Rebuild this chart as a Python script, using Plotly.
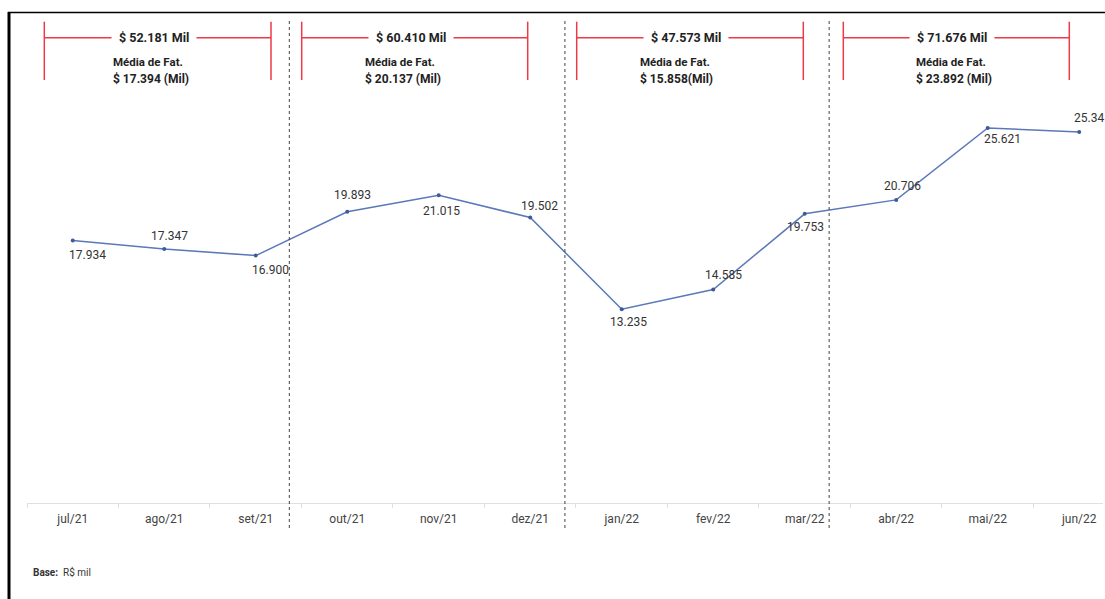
import plotly.graph_objects as go

# ---- data ----
months = ["jul/21", "ago/21", "set/21", "out/21", "nov/21", "dez/21",
          "jan/22", "fev/22", "mar/22", "abr/22", "mai/22", "jun/22"]
revenue = [17.934, 17.347, 16.900, 19.893, 21.015, 19.502,
           13.235, 14.585, 19.753, 20.706, 25.621, 25.34]
value_labels = ["17.934", "17.347", "16.900", "19.893", "21.015", "19.502",
                "13.235", "14.585", "19.753", "20.706", "25.621", "25.34"]
quarter_totals = ["$ 52.181 Mil", "$ 60.410 Mil", "$ 47.573 Mil", "$ 71.676 Mil"]
quarter_avgs = ["$ 17.394 (Mil)", "$ 20.137 (Mil)", "$ 15.858(Mil)", "$ 23.892 (Mil)"]

# ---- layout geometry (pixels of the 1105x599 canvas) ----
W, H = 1105, 599
ML, MR, MT, MB = 27, 2, 18, 96
PW = W - ML - MR
PH = H - MT - MB
XR = [-0.5, 11.26]
YR = [0, 33.13]


def px_x(p):
    return (p - ML) / PW


def px_y(p):
    return (H - MB - p) / PH


def idx_x(i):
    return (i - XR[0]) / (XR[1] - XR[0])


# label offsets from each point (pixels, right / down)
label_dx = [15, 5, 15, 5, 3, 9, 7, 10, 1, 6, 15, 10]
label_dy = [15, -13, 14, -17, 16, -12, 13, -14, 13, -14, 11, -14]

fig = go.Figure()
fig.add_trace(go.Scatter(
    x=months, y=revenue, mode="lines+markers",
    line=dict(color="#5b78b9", width=1.5),
    marker=dict(size=4, color="#3d5a9a"),
    cliponaxis=False, hoverinfo="skip", showlegend=False,
))

annotations = []
for m, v, t, dx, dy in zip(months, revenue, value_labels, label_dx, label_dy):
    annotations.append(dict(
        x=m, y=v, xref="x", yref="y", text=t, showarrow=False,
        xanchor="center", yanchor="middle", xshift=dx, yshift=-dy,
        font=dict(family="Roboto", size=12, color="#333333")))

shapes = []
# frame borders
shapes.append(dict(type="line", xref="paper", yref="paper",
                   x0=px_x(9), x1=px_x(9), y0=px_y(12), y1=px_y(H + 2),
                   line=dict(color="black", width=3)))
shapes.append(dict(type="line", xref="paper", yref="paper",
                   x0=px_x(8), x1=px_x(W + 2), y0=px_y(12.5), y1=px_y(12.5),
                   line=dict(color="black", width=1.5)))

# quarter dividers (dotted)
for d in [2.367, 5.379, 8.267]:
    shapes.append(dict(type="line", xref="paper", yref="paper",
                       x0=idx_x(d), x1=idx_x(d), y0=px_y(21), y1=px_y(530),
                       line=dict(color="#444444", width=1, dash="dot")))

# red brackets
red = "#ec3a46"
brackets = [(44.3, 271.0, 111.0), (301.7, 527.7, 363.0),
            (576.7, 803.3, 638.3), (843.3, 1069.3, 914.0)]
for (lx, rx, tx), tot, avg in zip(brackets, quarter_totals, quarter_avgs):
    for xx in (lx, rx):
        shapes.append(dict(type="line", xref="paper", yref="paper",
                           x0=px_x(xx), x1=px_x(xx), y0=px_y(21.7), y1=px_y(80),
                           line=dict(color=red, width=1.5)))
    shapes.append(dict(type="line", xref="paper", yref="paper",
                       x0=px_x(lx), x1=px_x(rx), y0=px_y(37.7), y1=px_y(37.7),
                       line=dict(color=red, width=1.5)))
    annotations.append(dict(
        xref="paper", yref="paper", x=px_x((lx + rx) / 2 - 4), y=px_y(37.7),
        text="<b>%s</b>" % tot, showarrow=False, xanchor="center", yanchor="middle",
        bgcolor="white", borderpad=7,
        font=dict(family="Roboto", size=12.5, color="#222222")))
    annotations.append(dict(
        xref="paper", yref="paper", x=px_x(tx), y=px_y(61.7),
        text="<b>Média de Fat.</b>", showarrow=False, xanchor="left", yanchor="middle",
        font=dict(family="Roboto", size=11.5, color="#222222")))
    annotations.append(dict(
        xref="paper", yref="paper", x=px_x(tx), y=px_y(79),
        text="<b>%s</b>" % avg, showarrow=False, xanchor="left", yanchor="middle",
        font=dict(family="Roboto", size=12, color="#222222")))

annotations.append(dict(
    xref="paper", yref="paper", x=px_x(31), y=px_y(572), xanchor="left", yanchor="middle",
    text="<b>Base:</b>  R$ mil", showarrow=False,
    font=dict(family="Roboto", size=10, color="#333333")))

fig.update_layout(
    width=W, height=H,
    margin=dict(l=ML, r=MR, t=MT, b=MB, pad=0),
    paper_bgcolor="white", plot_bgcolor="white",
    shapes=shapes, annotations=annotations,
    xaxis=dict(type="category", range=XR, showgrid=False, zeroline=False,
               showline=True, linecolor="#e0e0e0", linewidth=1,
               ticks="outside", tickson="boundaries", ticklen=4, tickcolor="#e0e0e0",
               ticklabelstandoff=5,
               tickfont=dict(family="Roboto", size=12, color="#444444")),
    yaxis=dict(range=YR, visible=False, showgrid=False, zeroline=False),
    font=dict(family="Roboto"),
)

fig.write_html("out.html",
               config={"displayModeBar": False},
               post_script="document.body.style.margin='0';"
                           "document.body.style.overflow='hidden';")
